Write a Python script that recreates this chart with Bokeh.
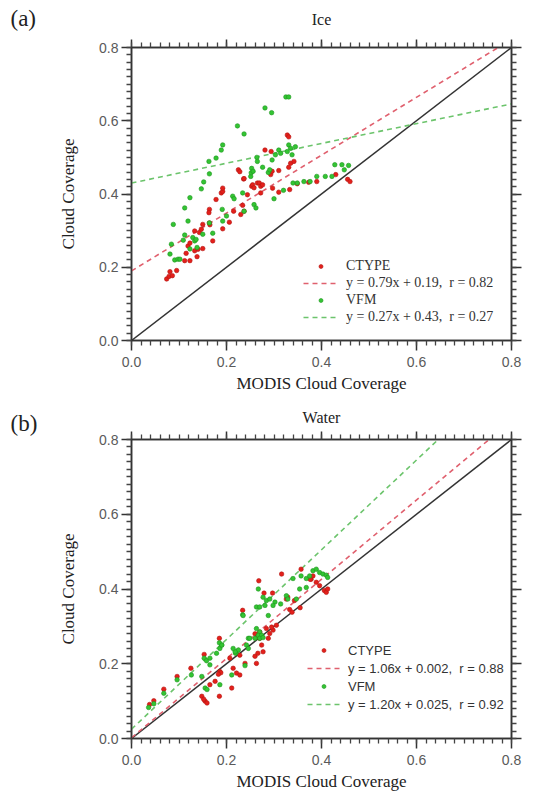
import numpy as np
from bokeh.plotting import figure
from bokeh.layouts import column, row
from bokeh.models import (Range1d, LinearAxis, FixedTicker, Legend, LegendItem)
from bokeh.core.properties import value
from bokeh.embed import file_html
from bokeh.resources import INLINE

# ---------------- data ----------------
TICKS = [0.0, 0.2, 0.4, 0.6, 0.8]
TICK_LABELS = ["0.0", "0.2", "0.4", "0.6", "0.8"]
PANEL_TAGS = ["(a)", "(b)"]
PANEL_TITLES = ["Ice", "Water"]

# Panel (a) Ice
ice_ctype_x = [0.074, 0.079, 0.086, 0.081, 0.095, 0.112, 0.115, 0.119, 0.123, 0.123, 0.133, 0.133,
               0.138, 0.140, 0.143, 0.147, 0.150, 0.150, 0.164, 0.165, 0.163, 0.164, 0.171, 0.178,
               0.189, 0.192, 0.192, 0.192, 0.206, 0.215, 0.225, 0.228, 0.230, 0.234, 0.236, 0.237,
               0.237, 0.244, 0.253, 0.255, 0.258, 0.265, 0.269, 0.272, 0.272, 0.276, 0.281, 0.293,
               0.294, 0.296, 0.297, 0.310, 0.310, 0.328, 0.331, 0.331, 0.333, 0.335, 0.342, 0.349,
               0.373, 0.390, 0.430, 0.455, 0.460]
ice_ctype_y = [0.168, 0.175, 0.177, 0.188, 0.191, 0.218, 0.238, 0.258, 0.266, 0.218, 0.245, 0.299,
               0.229, 0.249, 0.295, 0.304, 0.317, 0.251, 0.358, 0.316, 0.349, 0.321, 0.272, 0.385,
               0.403, 0.407, 0.416, 0.305, 0.323, 0.353, 0.466, 0.461, 0.344, 0.369, 0.441, 0.442,
               0.353, 0.398, 0.421, 0.425, 0.417, 0.430, 0.430, 0.421, 0.403, 0.425, 0.520, 0.453,
               0.516, 0.462, 0.416, 0.464, 0.405, 0.561, 0.556, 0.473, 0.412, 0.484, 0.489, 0.428,
               0.432, 0.434, 0.453, 0.440, 0.434]
ice_vfm_x = [0.081, 0.084, 0.091, 0.098, 0.102, 0.088, 0.109, 0.112, 0.112, 0.119, 0.123, 0.123,
             0.129, 0.133, 0.136, 0.138, 0.147, 0.150, 0.152, 0.164, 0.163, 0.171, 0.164, 0.178,
             0.189, 0.192, 0.191, 0.192, 0.200, 0.213, 0.216, 0.223, 0.234, 0.237, 0.237, 0.251,
             0.252, 0.253, 0.256, 0.258, 0.262, 0.264, 0.265, 0.276, 0.281, 0.288, 0.291, 0.295,
             0.296, 0.300, 0.303, 0.310, 0.314, 0.325, 0.331, 0.331, 0.328, 0.335, 0.338, 0.345,
             0.320, 0.340, 0.349, 0.363, 0.376, 0.390, 0.408, 0.422, 0.428, 0.443, 0.448, 0.457]
ice_vfm_y = [0.236, 0.263, 0.220, 0.222, 0.222, 0.317, 0.274, 0.288, 0.362, 0.326, 0.390, 0.250,
             0.281, 0.272, 0.276, 0.254, 0.414, 0.290, 0.433, 0.455, 0.489, 0.293, 0.321, 0.498,
             0.520, 0.534, 0.358, 0.326, 0.340, 0.394, 0.387, 0.586, 0.403, 0.564, 0.353, 0.448,
             0.458, 0.470, 0.462, 0.371, 0.362, 0.500, 0.489, 0.473, 0.635, 0.459, 0.466, 0.622,
             0.493, 0.387, 0.507, 0.520, 0.511, 0.665, 0.665, 0.534, 0.516, 0.525, 0.507, 0.529,
             0.410, 0.430, 0.430, 0.434, 0.434, 0.448, 0.448, 0.448, 0.480, 0.480, 0.466, 0.478]

# Panel (b) Water
wat_ctype_x = [0.038, 0.047, 0.068, 0.096, 0.125, 0.153, 0.185, 0.234, 0.148, 0.155, 0.159, 0.152,
               0.185, 0.211, 0.165, 0.176, 0.186, 0.188, 0.183, 0.214, 0.221, 0.228, 0.207, 0.239,
               0.228, 0.268, 0.279, 0.297, 0.326, 0.329, 0.343, 0.333, 0.357, 0.378, 0.389, 0.396,
               0.406, 0.410, 0.413, 0.316, 0.284, 0.291, 0.288, 0.298, 0.270, 0.274, 0.277, 0.263,
               0.260, 0.266, 0.260, 0.265, 0.270, 0.295, 0.305, 0.338, 0.355, 0.382, 0.376]
wat_ctype_y = [0.091, 0.101, 0.132, 0.166, 0.188, 0.225, 0.268, 0.343, 0.113, 0.100, 0.095, 0.105,
               0.113, 0.135, 0.144, 0.153, 0.179, 0.176, 0.172, 0.188, 0.175, 0.170, 0.215, 0.201,
               0.223, 0.422, 0.389, 0.389, 0.373, 0.378, 0.369, 0.345, 0.453, 0.426, 0.418, 0.409,
               0.396, 0.391, 0.400, 0.440, 0.294, 0.281, 0.268, 0.290, 0.268, 0.250, 0.232, 0.201,
               0.220, 0.228, 0.280, 0.272, 0.285, 0.298, 0.303, 0.338, 0.350, 0.435, 0.426]
wat_vfm_x = [0.036, 0.047, 0.068, 0.096, 0.126, 0.153, 0.158, 0.165, 0.179, 0.186, 0.190, 0.185,
             0.165, 0.148, 0.155, 0.159, 0.186, 0.211, 0.221, 0.225, 0.219, 0.234, 0.239, 0.246,
             0.340, 0.357, 0.368, 0.382, 0.389, 0.396, 0.403, 0.410, 0.413, 0.375, 0.354, 0.368,
             0.326, 0.329, 0.347, 0.277, 0.284, 0.291, 0.302, 0.298, 0.281, 0.263, 0.270, 0.267,
             0.314, 0.235, 0.288, 0.263, 0.270, 0.267, 0.274, 0.270, 0.260, 0.277, 0.249, 0.242,
             0.246, 0.218, 0.214, 0.190]
wat_vfm_y = [0.083, 0.093, 0.121, 0.157, 0.170, 0.215, 0.208, 0.197, 0.228, 0.241, 0.250, 0.256,
             0.215, 0.166, 0.135, 0.131, 0.144, 0.170, 0.232, 0.237, 0.228, 0.331, 0.195, 0.268,
             0.428, 0.435, 0.428, 0.449, 0.453, 0.444, 0.440, 0.437, 0.431, 0.435, 0.400, 0.404,
             0.382, 0.373, 0.373, 0.378, 0.369, 0.373, 0.365, 0.356, 0.356, 0.352, 0.352, 0.400,
             0.360, 0.329, 0.329, 0.294, 0.285, 0.276, 0.276, 0.268, 0.268, 0.270, 0.268, 0.250,
             0.241, 0.232, 0.241, 0.250]

# regression fits (slope, intercept)
ice_fit_ctype = (0.79, 0.19)
ice_fit_vfm = (0.27, 0.43)
wat_fit_ctype = (1.06, 0.002)
wat_fit_vfm = (1.20, 0.025)

ice_labels = ["CTYPE", "y = 0.79x + 0.19,  r = 0.82", "VFM", "y = 0.27x + 0.43,  r = 0.27"]
wat_labels = ["CTYPE", "y = 1.06x + 0.002,  r = 0.88", "VFM", "y = 1.20x + 0.025,  r = 0.92"]

RED = "#e3201b"
RED_EDGE = "#b31512"
GREEN = "#33c433"
GREEN_EDGE = "#1f951f"
RED_LINE = "#e0606e"
GREEN_LINE = "#6cc46c"
SERIF = "Liberation Serif"
SANS = "Liberation Sans"

LO, HI = 0.0, 0.8
STRIP_W = 45
PAGE_W, PAGE_H = 534, 793


def fit_segment(m, b):
    x1 = min(HI, (HI - b) / m)
    xs = np.array([LO, x1])
    return xs, m * xs + b


def style_axis(ax, labels):
    ax.ticker = FixedTicker(ticks=TICKS, minor_ticks=list(np.round(np.arange(0, 0.8001, 0.02), 3)))
    ax.axis_line_color = "#333333"
    ax.axis_line_width = 1.5
    ax.major_tick_line_color = "#333333"
    ax.major_tick_line_width = 1.5
    ax.minor_tick_line_color = "#444444"
    ax.minor_tick_line_width = 1.3
    ax.major_tick_in = 0
    ax.major_tick_out = 10
    ax.minor_tick_in = 0
    ax.minor_tick_out = 5
    if labels:
        ax.major_label_overrides = {t: s for t, s in zip(TICKS, TICK_LABELS)}
        ax.major_label_text_font = SANS
        ax.major_label_text_font_size = "14px"
        ax.major_label_text_color = "#5a5a5a"
        ax.axis_label_text_font = SERIF
        ax.axis_label_text_font_size = "17px"
        ax.axis_label_text_font_style = "normal"
        ax.axis_label_text_color = "#222222"
    else:
        ax.major_label_text_color = None
        ax.major_label_text_font_size = "1px"
        ax.major_label_standoff = 0


def make_panel(title, cx, cy, vx, vy, fit_c, fit_v, labels, legend_font,
               height, top, bottom, left, right, legend_loc, legend_rowh, glyph_w, title_standoff):
    p = figure(width=PAGE_W - STRIP_W, height=height, output_backend="svg", toolbar_location=None,
               x_range=Range1d(LO, HI), y_range=Range1d(LO, HI),
               min_border_left=left - STRIP_W, min_border_right=right,
               min_border_top=top, min_border_bottom=bottom,
               x_axis_label="MODIS Cloud Coverage", y_axis_label="Cloud Coverage")
    p.background_fill_color = "white"
    p.border_fill_color = "white"
    p.outline_line_color = "#222222"
    p.outline_line_width = 1.5
    p.xgrid.visible = False
    p.ygrid.visible = False

    style_axis(p.xaxis[0], True)
    style_axis(p.yaxis[0], True)
    p.xaxis[0].major_label_standoff = 6
    p.xaxis[0].axis_label_standoff = 4
    p.yaxis[0].major_label_standoff = 3
    p.yaxis[0].axis_label_standoff = 18

    top_ax = LinearAxis(axis_label=title)
    right_ax = LinearAxis()
    style_axis(top_ax, False)
    style_axis(right_ax, False)
    top_ax.major_tick_out = 8
    top_ax.axis_label_text_font = SERIF
    top_ax.axis_label_text_font_size = "16px"
    top_ax.axis_label_text_font_style = "normal"
    top_ax.axis_label_text_color = "#222222"
    top_ax.axis_label_standoff = title_standoff
    p.add_layout(top_ax, "above")
    p.add_layout(right_ax, "right")

    # 1:1 line
    p.line([LO, HI], [LO, HI], line_color="#333333", line_width=1.5)

    xs, ys = fit_segment(*fit_c)
    lc = p.line(xs, ys, line_color=RED_LINE, line_width=1.6, line_dash="5 4")
    xs, ys = fit_segment(*fit_v)
    lv = p.line(xs, ys, line_color=GREEN_LINE, line_width=1.6, line_dash="5 4")

    sc = p.scatter(cx, cy, size=4.5, fill_color=RED, line_color=RED_EDGE, line_width=0.6)
    sv = p.scatter(vx, vy, size=4.5, fill_color=GREEN, line_color=GREEN_EDGE, line_width=0.6)

    legend = Legend(items=[LegendItem(label=labels[0], renderers=[sc]),
                           LegendItem(label=labels[1], renderers=[lc]),
                           LegendItem(label=labels[2], renderers=[sv]),
                           LegendItem(label=labels[3], renderers=[lv])],
                    location=legend_loc, padding=0, margin=0, spacing=0,
                    border_line_color=None, background_fill_alpha=0,
                    glyph_width=glyph_w, glyph_height=10, label_height=legend_rowh,
                    label_standoff=8, label_text_font=legend_font,
                    label_text_font_size="14px" if legend_font == SERIF else "13px",
                    label_text_color="#333333")
    p.add_layout(legend, "center")
    return p


pa = make_panel(PANEL_TITLES[0], ice_ctype_x, ice_ctype_y, ice_vfm_x, ice_vfm_y,
                ice_fit_ctype, ice_fit_vfm, ice_labels, SERIF,
                height=395, top=47, bottom=53, left=128, right=23,
                legend_loc=(172, 15), legend_rowh=17, glyph_w=35, title_standoff=12)
pb = make_panel(PANEL_TITLES[1], wat_ctype_x, wat_ctype_y, wat_vfm_x, wat_vfm_y,
                wat_fit_ctype, wat_fit_vfm, wat_labels, SANS,
                height=398, top=44, bottom=52, left=131, right=21,
                legend_loc=(176, 25), legend_rowh=18, glyph_w=33, title_standoff=6)

# narrow strip at the left holding the panel tags "(a)" and "(b)" (y measured from the top)
strip = figure(width=STRIP_W, height=PAGE_H, output_backend="svg", toolbar_location=None,
               x_range=Range1d(0, STRIP_W), y_range=Range1d(PAGE_H, 0),
               x_axis_type=None, y_axis_type=None,
               min_border=0, min_border_left=0, min_border_right=0,
               min_border_top=0, min_border_bottom=0)
strip.outline_line_color = None
strip.xgrid.visible = False
strip.ygrid.visible = False
strip.background_fill_color = "white"
strip.border_fill_color = "white"
strip.text(x=[10, 10], y=[18, 423], text=PANEL_TAGS, text_font=value(SERIF),
           text_font_size="23px", text_color="#222222", text_baseline="middle", text_align="left")

layout = row(strip, column(pa, pb, spacing=0), spacing=0)
open("out.html", "w").write(file_html(layout, INLINE))
